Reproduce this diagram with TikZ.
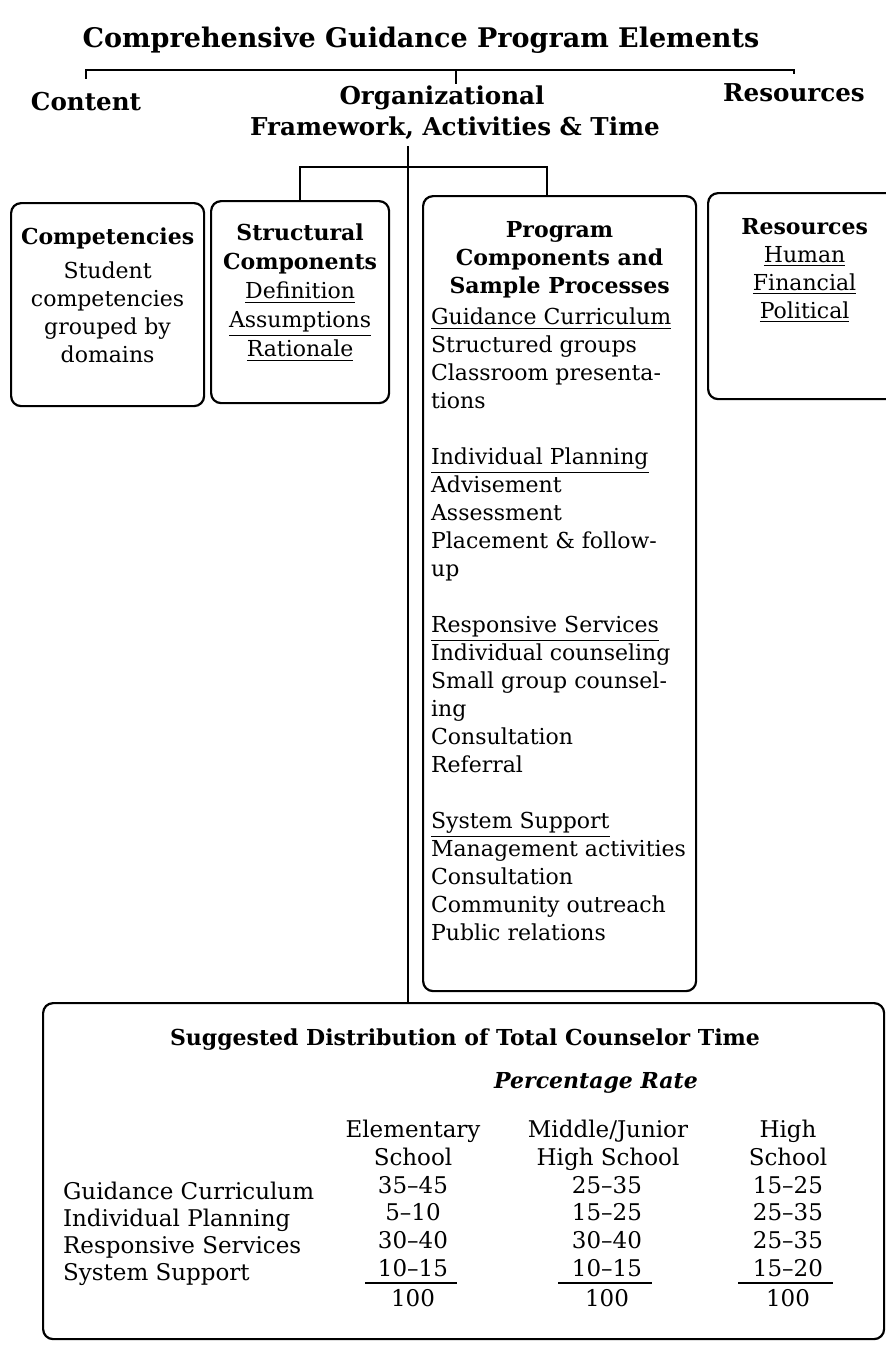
\documentclass[tikz,border=0pt]{standalone}
\usepackage{fontspec}
\setmainfont{DejaVu Serif}
\usetikzlibrary{positioning}

\tikzset{
  panel/.style={draw, rounded corners=5pt, anchor=north west, inner sep=0pt},
  boxhead/.style={font=\fontsize{11}{14}\selectfont\bfseries, align=center, inner sep=0pt},
  boxtext/.style={font=\fontsize{11}{14}\selectfont, align=center, inner sep=0pt},
  toplabel/.style={font=\fontsize{12.3}{14}\selectfont\bfseries, inner sep=0pt, anchor=base},
  cell/.style={font=\fontsize{11.5}{13}\selectfont, inner sep=0pt, anchor=base},
}

\begin{document}
\begin{tikzpicture}[x=0.5pt, y=-0.5pt, line width=1.1pt]
  \useasboundingbox (0,0) rectangle (886,1346);
  % title and the three elements
  \node[toplabel, font=\fontsize{13.5}{16}\selectfont\bfseries] (title) at (421,47) {Comprehensive Guidance Program Elements};
  \node[toplabel] (content) at (86,110) {Content};
  \node[toplabel] (org) at (442,104) {Organizational};
  \node[toplabel] (frame) at (455,135) {Framework, Activities \& Time};
  \node[toplabel] (resources) at (794,101) {Resources};
  \coordinate (bracket) at (456,70);
  \draw ([yshift=6pt]content.north) |- (bracket) -| ([yshift=4pt]resources.north);
  \draw (bracket) -- (bracket |- org.north);

  % boxes
  \node[panel, minimum width=96.5pt, minimum height=101.5pt] (comp) at (10,202) {};
  \node[panel, minimum width=89pt, minimum height=101pt] (struc) at (210,200) {};
  \node[panel, minimum width=136.5pt, minimum height=397.5pt] (prog) at (422,195) {};
  \node[panel, minimum width=96.5pt, minimum height=103pt] (res) at (707,192) {};
  \node[panel, minimum width=420.5pt, minimum height=168pt] (dist) at (42,1002) {};

  \node[boxhead, below=12.5pt of comp.north] (comp-head) {Competencies};
  \node[boxtext, below=5pt of comp-head] (comp-text) {Student\\competencies\\grouped by\\domains};
  \node[boxtext, below=11.5pt of struc.north, font=\fontsize{11}{14.5}\selectfont] (struc-text)
    {\textbf{Structural}\\\textbf{Components}\\\underline{Definition}\\\underline{Assumptions}\\\underline{Rationale}};
  \node[boxhead, below=12.5pt of prog.north] (prog-head) {Program\\Components and\\Sample Processes};
  \node[boxtext, align=left, below right=56pt and 4pt of prog.north west] (prog-text)
    {\underline{Guidance Curriculum}\\
     Structured groups\\
     Classroom presenta-\\
     tions\\[14pt]
     \underline{Individual Planning}\\
     Advisement\\
     Assessment\\
     Placement \& follow-\\
     up\\[14pt]
     \underline{Responsive Services}\\
     Individual counseling\\
     Small group counsel-\\
     ing\\
     Consultation\\
     Referral\\[14pt]
     \underline{System Support}\\
     Management activities\\
     Consultation\\
     Community outreach\\
     Public relations};
  \node[boxtext, below=12.5pt of res.north] (res-text)
    {\textbf{Resources}\\\underline{Human}\\\underline{Financial}\\\underline{Political}};

  % spine and fork
  \coordinate (spine) at (408,146);
  \draw (spine) -- (spine |- dist.north);
  \coordinate (fork) at (408,167);
  \draw (struc.north) |- (fork) -| ([xshift=-6.5pt]prog.north);

  % time distribution table
  \node[toplabel, font=\fontsize{11}{13}\selectfont\bfseries] (dist-title) at (465,1045) {Suggested Distribution of Total Counselor Time};
  \node[toplabel, font=\fontsize{11}{13}\selectfont\bfseries\itshape] (rate) at (596,1088) {Percentage Rate};
  \foreach \x/\a/\b [count=\i] in {413/Elementary/School, 608/{Middle/Junior}/High School, 788/High/School} {
    \node[cell] (hd\i-1) at (\x,1137) {\a};
    \node[cell] (hd\i-2) at (\x,1165) {\b};
  }
  \foreach \ly/\vy/\lab/\ea/\mi/\hi [count=\i] in {
      1199/1193/Guidance Curriculum/35--45/25--35/15--25,
      1226/1220/Individual Planning/5--10/15--25/25--35,
      1253/1248/Responsive Services/30--40/30--40/25--35,
      1280/1276/System Support/10--15/10--15/15--20} {
    \node[cell, anchor=base west] (lab\i) at (62,\ly) {\lab};
    \node[cell] (el\i) at (413,\vy) {\ea};
    \node[cell] (mi\i) at (607,\vy) {\mi};
    \node[cell] (hi\i) at (788,\vy) {\hi};
  }
  \foreach \a/\b in {365/457, 558/652, 738/833}
    \draw (\a,1283) -- (\b,1283);
  \foreach \x [count=\i] in {413,607,788}
    \node[cell] (tot\i) at (\x,1306) {100};
\end{tikzpicture}
\end{document}
